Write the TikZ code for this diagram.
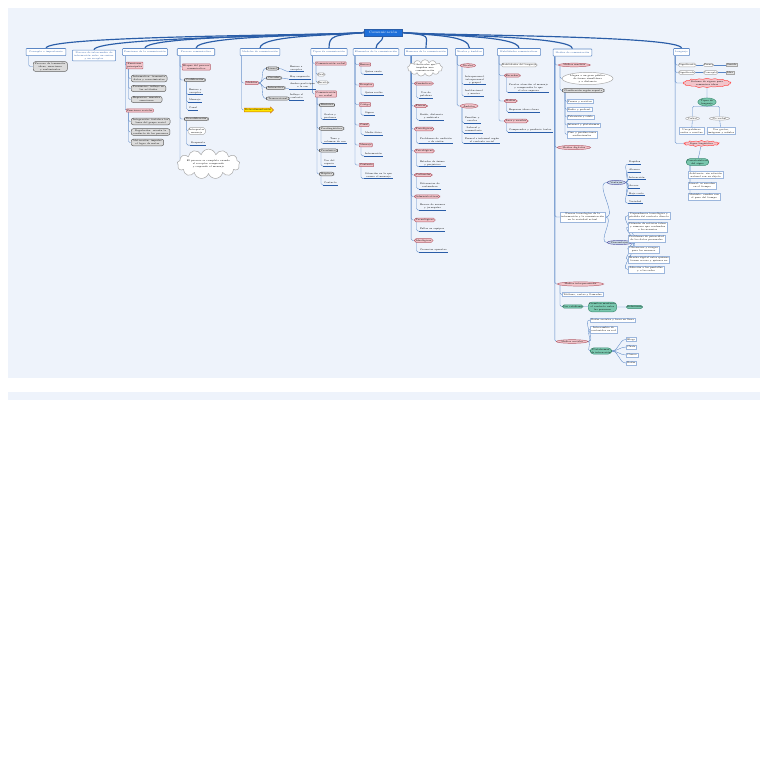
\documentclass[tikz,border=0pt]{standalone}
\usepackage{amsmath,amssymb}
\usepackage{tikz}
\usetikzlibrary{shapes,arrows.meta,positioning,calc,backgrounds}
\definecolor{panel}{HTML}{EEF3FB}
\definecolor{linkblue}{HTML}{5A86C5}
\definecolor{mainblue}{HTML}{2A5DA8}
\definecolor{rootblue}{HTML}{1E6FD9}
\definecolor{pinkfill}{HTML}{F2C4CA}
\definecolor{pinkline}{HTML}{B5606C}
\definecolor{tealfill}{HTML}{79C7AE}
\definecolor{tealline}{HTML}{3E8C73}
\definecolor{bluegrey}{HTML}{C9D6E6}

\begin{document}
\begin{tikzpicture}[x=0.3mm,y=-0.3mm,
    every node/.style={font=\fontsize{2.0}{2.5}\selectfont,inner sep=0.7pt,align=center},
    rootbox/.style={draw=mainblue,fill=rootblue,text=white,font=\fontsize{2.9}{3.3}\selectfont,inner xsep=4pt,inner ysep=1.8pt},
    topic/.style={draw=linkblue,fill=white,text=mainblue,line width=0.45pt,rounded corners=0.6pt,inner xsep=1.5pt,inner ysep=1.2pt,minimum height=6pt},
    pinkbox/.style={draw=pinkline,fill=pinkfill,rounded corners=0.5pt},
    pinkpill/.style={draw=pinkline,fill=pinkfill,rounded corners=1.6pt,inner xsep=1.5pt},
    pinkell/.style={ellipse,draw=pinkline,fill=pinkfill,inner sep=0.4pt},
    greybox/.style={draw=gray!75!black,fill=gray!28,rounded corners=1.8pt,inner xsep=1.6pt},
    whitebox/.style={draw=gray!70,fill=white,rounded corners=1.5pt},
    whiteell/.style={ellipse,draw=gray!70,fill=white,inner sep=0.3pt},
    blueell/.style={ellipse,draw=gray!70!blue,fill=bluegrey,inner sep=0.4pt},
    plainbox/.style={draw=linkblue!60,fill=white,inner sep=0.9pt},
    tealbox/.style={draw=tealline,fill=tealfill,rounded corners=1.5pt},
    tealell/.style={ellipse,draw=tealline,fill=tealfill,inner sep=0.3pt},
    burst/.style={starburst,draw=red!70,fill=pinkfill,starburst points=18,starburst point height=1.2pt,inner sep=0.3pt},
    puff/.style={cloud,cloud puffs=13,aspect=3.2,draw=gray!70,fill=white,inner sep=0pt},
    yarrow/.style={single arrow,draw=orange!80!black,fill=yellow!90!orange,single arrow head extend=1pt,inner sep=0.6pt},
    underline/.style={draw=mainblue,line width=0.55pt},
    leaf/.style={append after command={(\tikzlastnode.south west) edge[underline] (\tikzlastnode.south east)}},
    link/.style={draw=linkblue,line width=0.3pt,rounded corners=1.2pt},
    mainlink/.style={draw=mainblue,line width=1pt}]

  % Canvas
  \useasboundingbox (0,0) rectangle (768,770);

  % Centre and main topics
  \node[rootbox] (root) at (383,32.5) {Comunicación};
  \node[topic,minimum width=34pt] (b1) at (46,52) {Concepto e importancia};
  \node[topic,minimum width=37pt] (b2) at (94,55.5) {Proceso de intercambio de\\información entre un emisor\\y un receptor};
  \node[topic,minimum width=37pt] (b3) at (145,52) {Funciones de la comunicación};
  \node[topic,minimum width=32pt] (b4) at (196,52) {Proceso comunicativo};
  \node[topic,minimum width=34pt] (b5) at (260,52) {Modelos de comunicación};
  \node[topic,minimum width=31pt] (b6) at (329,52) {Tipos de comunicación};
  \node[topic,minimum width=37pt] (b7) at (376,52) {Elementos de la comunicación};
  \node[topic,minimum width=36pt] (b8) at (426,52) {Barreras de la comunicación};
  \node[topic,minimum width=21pt] (b9) at (469.5,52) {Niveles y ámbitos};
  \node[topic,minimum width=37pt] (b10) at (519,52) {Habilidades comunicativas};
  \node[topic,minimum width=33pt] (b11) at (572.5,52.5) {Medios de comunicación};
  \node[topic,minimum width=13pt] (b12) at (681.5,52) {Lenguaje};

  % Concepto
  \node[greybox,anchor=west] (g11) at (33,66.5) {Proceso de transmitir\\ideas, emociones\\y sentimientos};

  % Funciones
  \node[pinkbox,anchor=west] (p31) at (126,65.5) {Funciones\\principales};
  \node[greybox,anchor=west] (g31) at (131,78.5) {Informativa: transmite\\datos y conocimientos};
  \node[greybox,anchor=west] (g32) at (131,88.5) {Persuasiva: influye en\\las actitudes};
  \node[greybox,anchor=west] (g33) at (131,99.5) {Expresiva: muestra\\emociones};
  \node[pinkbox,anchor=west] (p32) at (126,110.5) {Funciones sociales};
  \node[greybox,anchor=west] (g34) at (131,121.5) {Integración: fortalece los\\lazos del grupo social};
  \node[greybox,anchor=west] (g35) at (131,132) {Regulación: orienta la\\conducta de las personas};
  \node[greybox,anchor=west] (g36) at (131,142.5) {Motivación: impulsa\\el logro de metas};

  % Proceso
  \node[pinkbox,anchor=west] (p41) at (182,67) {Etapas del proceso\\comunicativo};
  \node[greybox,anchor=west] (g41) at (184,80) {Codificación};
  \node[leaf,anchor=west] (l41) at (188,91) {Emisor y\\receptor};
  \node[leaf,anchor=west] (l42) at (188,100) {Mensaje};
  \node[leaf,anchor=west] (l43) at (188,108) {Canal};
  \node[greybox,anchor=west] (g42) at (184,119) {Decodificación};
  \node[whitebox,anchor=west] (w41) at (188,131) {Interpretar\\mensaje};
  \node[leaf,anchor=west] (l44) at (190,143) {Respuesta};
  \node[puff] (c41) at (208.5,164) {El proceso se completa cuando\\el receptor comprende\\y responde al mensaje};

  % Modelos
  \node[pinkbox,anchor=west] (p51) at (245,83) {Modelos};
  \node[greybox,anchor=west] (g51) at (266,68.5) {Lineal};
  \node[greybox,anchor=west] (g52) at (266,78) {Circular};
  \node[greybox,anchor=west] (g53) at (266,88) {Interactivo};
  \node[greybox,anchor=west] (g54) at (266,98.5) {Transaccional};
  \node[leaf,anchor=west] (l51) at (289,68) {Emisor a\\receptor};
  \node[leaf,anchor=west] (l52) at (289,77) {Hay respuesta};
  \node[leaf,anchor=west] (l53) at (289,85.5) {Ambos participan\\a la vez};
  \node[leaf,anchor=west] (l54) at (289,96.5) {Influye el\\contexto};
  \node[yarrow,anchor=west] (a51) at (244,110) {Retroalimentación};

  % Tipos
  \node[pinkbox,anchor=west] (p61) at (315,63.5) {Comunicación verbal};
  \node[whitebox,anchor=west] (w61) at (317,74.5) {Oral};
  \node[whitebox,anchor=west] (w62) at (317,82.5) {Escrita};
  \node[pinkbox,anchor=west] (p62) at (315,94) {Comunicación\\no verbal};
  \node[greybox,anchor=west] (g61) at (319,105) {Kinésica};
  \node[leaf,anchor=west] (l61) at (323,116) {Gestos y\\posturas};
  \node[greybox,anchor=west] (g62) at (319,128.5) {Paralingüística};
  \node[leaf,anchor=west] (l62) at (323,140) {Tono y\\volumen de voz};
  \node[greybox,anchor=west] (g63) at (319,150.5) {Proxémica};
  \node[leaf,anchor=west] (l63) at (323,162.5) {Uso del\\espacio};
  \node[greybox,anchor=west] (g64) at (319,174) {Háptica};
  \node[leaf,anchor=west] (l64) at (323,183) {Contacto};

  % Elementos
  \node[pinkbox,anchor=west] (p71) at (359,64.5) {Emisor};
  \node[pinkbox,anchor=west] (p72) at (359,85) {Receptor};
  \node[pinkbox,anchor=west] (p73) at (359,104.5) {Código};
  \node[pinkbox,anchor=west] (p74) at (359,125) {Canal};
  \node[pinkbox,anchor=west] (p75) at (359,145) {Mensaje};
  \node[pinkbox,anchor=west] (p76) at (359,165) {Contexto};
  \node[leaf,anchor=west] (l71) at (364,72) {Quien envía};
  \node[leaf,anchor=west] (l72) at (364,93) {Quien recibe};
  \node[leaf,anchor=west] (l73) at (364,113) {Signos};
  \node[leaf,anchor=west] (l74) at (364,133) {Medio físico};
  \node[leaf,anchor=west] (l75) at (364,154) {Información};
  \node[leaf,anchor=west] (l76) at (364,175) {Situación en la que\\ocurre el mensaje};

  % Barreras
  \node[puff] (c81) at (425,68) {Obstáculos que\\impiden una\\comunicación};
  \node[pinkpill,anchor=west] (p81) at (414,83.5) {Semánticas};
  \node[pinkpill,anchor=west] (p82) at (414,106) {Físicas};
  \node[pinkpill,anchor=west] (p83) at (414,129) {Fisiológicas};
  \node[pinkpill,anchor=west] (p84) at (414,151) {Psicológicas};
  \node[pinkpill,anchor=west] (p85) at (414,175) {Culturales};
  \node[pinkpill,anchor=west] (p86) at (414,196.5) {Administrativas};
  \node[pinkpill,anchor=west] (p87) at (414,220) {Tecnológicas};
  \node[pinkpill,anchor=west] (p88) at (414,240.5) {Ideológicas};
  \node[leaf,anchor=west] (l81) at (419,94.5) {Uso de\\palabras};
  \node[leaf,anchor=west] (l82) at (419,116.5) {Ruido, distancia\\y ambiente};
  \node[leaf,anchor=west] (l83) at (419,140) {Problemas de audición\\o de visión};
  \node[leaf,anchor=west] (l84) at (419,163) {Estados de ánimo\\y prejuicios};
  \node[leaf,anchor=west] (l85) at (419,185.5) {Diferencias de\\costumbres};
  \node[leaf,anchor=west] (l86) at (419,206.5) {Exceso de normas\\y jerarquías};
  \node[leaf,anchor=west] (l87) at (419,229) {Fallas en equipos};
  \node[leaf,anchor=west] (l88) at (419,250) {Creencias opuestas};

  % Niveles
  \node[pinkell,anchor=west] (e91) at (460,65.5) {Niveles};
  \node[leaf,anchor=west] (l91) at (464,79.5) {Intrapersonal,\\interpersonal\\y grupal};
  \node[leaf,anchor=west] (l92) at (464,92.5) {Institucional\\y masivo};
  \node[pinkell,anchor=west] (e92) at (460,106) {Ámbitos};
  \node[leaf,anchor=west] (l93) at (464,119.5) {Familiar y\\escolar};
  \node[leaf,anchor=west] (l94) at (464,129.5) {Laboral y\\comunitario};
  \node[leaf,anchor=west] (l95) at (464,140) {Formal e informal según\\el contexto social};

  % Habilidades
  \node[whitebox,anchor=west] (w101) at (501,65) {Habilidades del lenguaje};
  \node[pinkpill,anchor=west] (p101) at (504,75.5) {Escuchar};
  \node[leaf,anchor=west] (l101) at (508,87.5) {Prestar atención al mensaje\\y comprender lo que\\el otro expresa};
  \node[pinkpill,anchor=west] (p102) at (504,101) {Hablar};
  \node[leaf,anchor=west] (l102) at (508,110) {Expresar ideas claras};
  \node[pinkpill,anchor=west] (p103) at (504,121) {Leer y escribir};
  \node[leaf,anchor=west] (l103) at (508,130) {Comprender y producir textos};

  % Medios
  \node[pinkell,anchor=west] (e111) at (558,65) {Medios masivos};
  \node[whiteell,anchor=west] (w111) at (562,78.5) {Llegan a un gran público\\de forma simultánea\\y a distancia};
  \node[greybox,anchor=west] (g111) at (562,90.5) {Clasificación según soporte};
  \node[plainbox,anchor=west] (r111) at (566.5,101.5) {Prensa y revistas};
  \node[plainbox,anchor=west] (r112) at (566.5,109.5) {Radio y podcast};
  \node[plainbox,anchor=west] (r113) at (566.5,117) {Televisión y cable};
  \node[plainbox,anchor=west] (r114) at (566.5,125) {Internet y plataformas};
  \node[plainbox,anchor=west] (r115) at (566.5,134.5) {Cine y producciones\\audiovisuales};
  \node[pinkell,anchor=west] (e112) at (557,147.5) {Medios digitales};
  \node[plainbox,anchor=west] (r116) at (560,217) {Nuevas tecnologías de la\\información y la comunicación\\en la sociedad actual};
  \node[blueell,anchor=west] (e113) at (607,182.5) {Ventajas};
  \node[leaf,anchor=west] (v1) at (628,162) {Rapidez};
  \node[leaf,anchor=west] (v2) at (628,170) {Alcance};
  \node[leaf,anchor=west] (v3) at (628,177.5) {Interacción};
  \node[leaf,anchor=west] (v4) at (628,186) {Acceso};
  \node[leaf,anchor=west] (v5) at (628,193.5) {Bajo costo};
  \node[leaf,anchor=west] (v6) at (628,201.5) {Variedad};
  \node[blueell,anchor=west] (e114) at (607,242.5) {Desventajas};
  \node[plainbox,anchor=west] (d1) at (628,215.5) {Dependencia tecnológica y\\pérdida del contacto directo};
  \node[plainbox,anchor=west] (d2) at (628,227) {Difusión de noticias falsas\\y rumores que confunden\\a los usuarios};
  \node[plainbox,anchor=west] (d3) at (628,238.5) {Problemas de privacidad\\de los datos personales};
  \node[plainbox,anchor=west] (d4) at (628,249.5) {Ciberacoso y riesgos\\para los menores};
  \node[plainbox,anchor=west] (d5) at (628,259.5) {Brecha digital entre quienes\\tienen acceso y quienes no};
  \node[plainbox,anchor=west] (d6) at (628,269.5) {Adicción a las pantallas\\y a las redes};
  \node[pinkell,anchor=west] (e115) at (557,284) {Medios interpersonales};
  \node[plainbox,anchor=west] (r117) at (562,294.5) {Teléfono, cartas y llamadas};
  \node[tealbox,anchor=west] (t111) at (562,306.5) {Uso cotidiano};
  \node[tealbox,anchor=west,rounded corners=3pt] (t112) at (588,307) {Permiten mantener\\el contacto entre\\las personas};
  \node[tealbox,anchor=west] (t113) at (626,307) {Relaciones};
  \node[pinkell,anchor=west] (e116) at (556,341.5) {Medios sociales};
  \node[plainbox,anchor=west] (r118) at (590,320) {Redes sociales y foros en línea};
  \node[plainbox,anchor=west] (r119) at (590,329.5) {Intercambio de\\contenidos en red};
  \node[tealbox,anchor=west,rounded corners=3pt] (t114) at (590,351) {Plataformas\\de interacción};
  \node[plainbox,anchor=west] (m1) at (626,339.5) {Blogs};
  \node[plainbox,anchor=west] (m2) at (626,347) {Chats};
  \node[plainbox,anchor=west] (m3) at (626,355) {Correo};
  \node[plainbox,anchor=west] (m4) at (626,363) {Redes};

  % Lenguaje
  \node[whitebox,anchor=west] (w121) at (678,65) {Significante};
  \node[whitebox,anchor=west] (w122) at (678,72.5) {Significado};
  \node[whitebox,anchor=west] (w123) at (703,65) {Forma};
  \node[whitebox,anchor=west] (w124) at (703,72.5) {Concepto};
  \node[draw=gray!70,fill=gray!20,anchor=west] (r121) at (726,65) {Sonido};
  \node[draw=gray!70,fill=gray!20,anchor=west] (r122) at (726,72.5) {Idea};
  \node[burst] (s121) at (707,83) {Sistema de signos para\\comunicar ideas};
  \node[tealell] (t121) at (707,102) {Tipos de\\lenguaje};
  \node[whiteell] (e121) at (692.5,118.5) {Verbal};
  \node[whiteell] (e122) at (719.5,118.5) {No verbal};
  \node[plainbox] (r123) at (691.5,131) {Usa palabras\\orales o escritas};
  \node[plainbox] (r124) at (721,131) {Usa gestos,\\imágenes y señales};
  \node[burst] (s122) at (701.5,143.5) {Signo lingüístico};
  \node[tealbox,rounded corners=3pt] (t122) at (697.5,162) {Características\\del signo};
  \node[plainbox,anchor=west] (r125) at (688,175) {Arbitrario: sin relación\\natural con su objeto};
  \node[plainbox,anchor=west] (r126) at (688,185.5) {Lineal: se suceden\\en el tiempo};
  \node[plainbox,anchor=west] (r127) at (688,196.5) {Mutable: cambia con\\el paso del tiempo};

  \begin{scope}[on background layer]
    % Panels
    \fill[panel] (8,8) rectangle (760,378);
    \fill[panel] (8,392) rectangle (760,400);

    % Main links
    \foreach \b in {b1,b2,b3,b4,b5,b6}
      \draw[mainlink] (root.west) .. controls ($(root.west)+(-30,3)$) and ($(\b.north)+(0,-13)$) .. (\b.north);
    \foreach \b in {b8,b9,b10,b11,b12}
      \draw[mainlink] (root.east) .. controls ($(root.east)+(30,3)$) and ($(\b.north)+(0,-13)$) .. (\b.north);
    \draw[mainlink] (root.south) .. controls +(0,6) and +(0,-6) .. (b7.north);

    % Concepto and Funciones
    \draw[link] ($(b1.south west)+(3,0)$) |- (g11.west);
    \coordinate (s3) at ($(b3.south west)+(3,0)$);
    \foreach \n in {p31,p32} \draw[link] (s3) |- (\n.west);
    \foreach \n in {g31,g32,g33} \draw[link] ($(p31.west)+(2.5,0)$) |- (\n.west);
    \foreach \n in {g34,g35,g36} \draw[link] ($(p32.west)+(2.5,0)$) |- (\n.west);

    % Proceso
    \coordinate (s4) at ($(b4.south west)+(3,0)$);
    \foreach \n in {p41,g41,g42,c41} \draw[link] (s4) |- (\n.west);
    \foreach \n in {l41,l42,l43} \draw[link] ($(g41.west)+(2.5,0)$) |- (\n.south west);
    \draw[link] ($(g42.west)+(2.5,0)$) |- (w41.west);
    \draw[link] ($(g42.west)+(2.5,0)$) |- (l44.south west);

    % Modelos
    \coordinate (s5) at ($(b5.south west)+(2,0)$);
    \foreach \n in {p51,a51} \draw[link] (s5) |- (\n.west);
    \foreach \i in {1,...,4} {
      \draw[link] (p51.east) to[out=0,in=180] (g5\i.west);
      \draw[link] (g5\i.east) to[out=0,in=180] (l5\i.south west);}

    % Tipos
    \coordinate (s6) at ($(b6.south west)+(2,0)$);
    \foreach \n in {p61,p62} \draw[link] (s6) |- (\n.west);
    \foreach \n in {w61,w62} \draw[link] ($(p61.west)+(1,0)$) |- (\n.west);
    \foreach \n in {g61,g62,g63,g64} \draw[link] ($(p62.west)+(2,0)$) |- (\n.west);
    \foreach \i in {1,...,4} \draw[link] ($(g6\i.west)+(2,0)$) |- (l6\i.south west);

    % Elementos
    \coordinate (s7) at ($(b7.south west)+(2,0)$);
    \foreach \i in {1,...,6} {
      \draw[link] (s7) |- (p7\i.west);
      \draw[link] ($(p7\i.west)+(2,0)$) |- (l7\i.south west);}

    % Barreras
    \coordinate (s8) at ($(b8.south west)+(7,0)$);
    \foreach \i in {1,...,8} {
      \draw[link] (s8) |- (p8\i.west);
      \draw[link] ($(p8\i.west)+(2.5,0)$) |- (l8\i.south west);}

    % Niveles
    \coordinate (s9) at ($(b9.south west)+(2,0)$);
    \foreach \n in {e91,e92} \draw[link] (s9) |- (\n.west);
    \foreach \n in {l91,l92} \draw[link] ($(e91.west)+(2,0)$) |- (\n.south west);
    \foreach \n in {l93,l94,l95} \draw[link] ($(e92.west)+(2,0)$) |- (\n.south west);

    % Habilidades
    \coordinate (s10) at ($(b10.south west)+(2,0)$);
    \foreach \n in {w101,p101,p102,p103} \draw[link] (s10) |- (\n.west);
    \foreach \i in {1,2,3} \draw[link] ($(p10\i.west)+(2.5,0)$) |- (l10\i.south west);

    % Medios
    \coordinate (s11) at ($(b11.south west)+(2,0)$);
    \foreach \n in {e111,e112,r116,e115,e116} \draw[link] (s11) |- (\n.west);
    \foreach \n in {w111,g111} \draw[link] ($(e111.west)+(2,0)$) |- (\n.west);
    \foreach \n in {r111,r112,r113,r114,r115} \draw[link] ($(g111.west)+(3,0)$) |- (\n.west);
    \foreach \n in {e113,e114} \draw[link] (r116.east) to[out=0,in=180] (\n.west);
    \foreach \n in {v1,v2,v3,v4,v5,v6} \draw[link] (e113.east) to[out=0,in=180] (\n.south west);
    \foreach \n in {d1,d2,d3,d4,d5,d6} \draw[link] (e114.east) to[out=0,in=180] (\n.west);
    \foreach \n in {r117,t111} \draw[link] ($(e115.west)+(3,0)$) |- (\n.west);
    \draw[link] (t111) -- (t112) -- (t113);
    \foreach \n in {r118,r119,t114} \draw[link] (e116.east) to[out=0,in=180] (\n.west);
    \foreach \n in {m1,m2,m3,m4} \draw[link] (t114.east) to[out=0,in=180] (\n.west);

    % Lenguaje
    \coordinate (s12) at ($(b12.south west)+(2,0)$);
    \foreach \n in {w121,w122,s121,s122} \draw[link] (s12) |- (\n.west);
    \draw[link] (w121) -- (w123) -- (r121);
    \draw[link] (w122) -- (w124) -- (r122);
    \draw[link] (s121) -- (t121);
    \foreach \n in {e121,e122} \draw[link] (t121.south) -| (\n.north);
    \draw[link] (e121) -- (r123);
    \draw[link] (e122) -- (r124);
    \draw[link] (s122) -- (t122);
    \foreach \n in {r125,r126,r127} \draw[link] ($(t122.west)+(4,0)$) |- (\n.west);
  \end{scope}
\end{tikzpicture}
\end{document}
